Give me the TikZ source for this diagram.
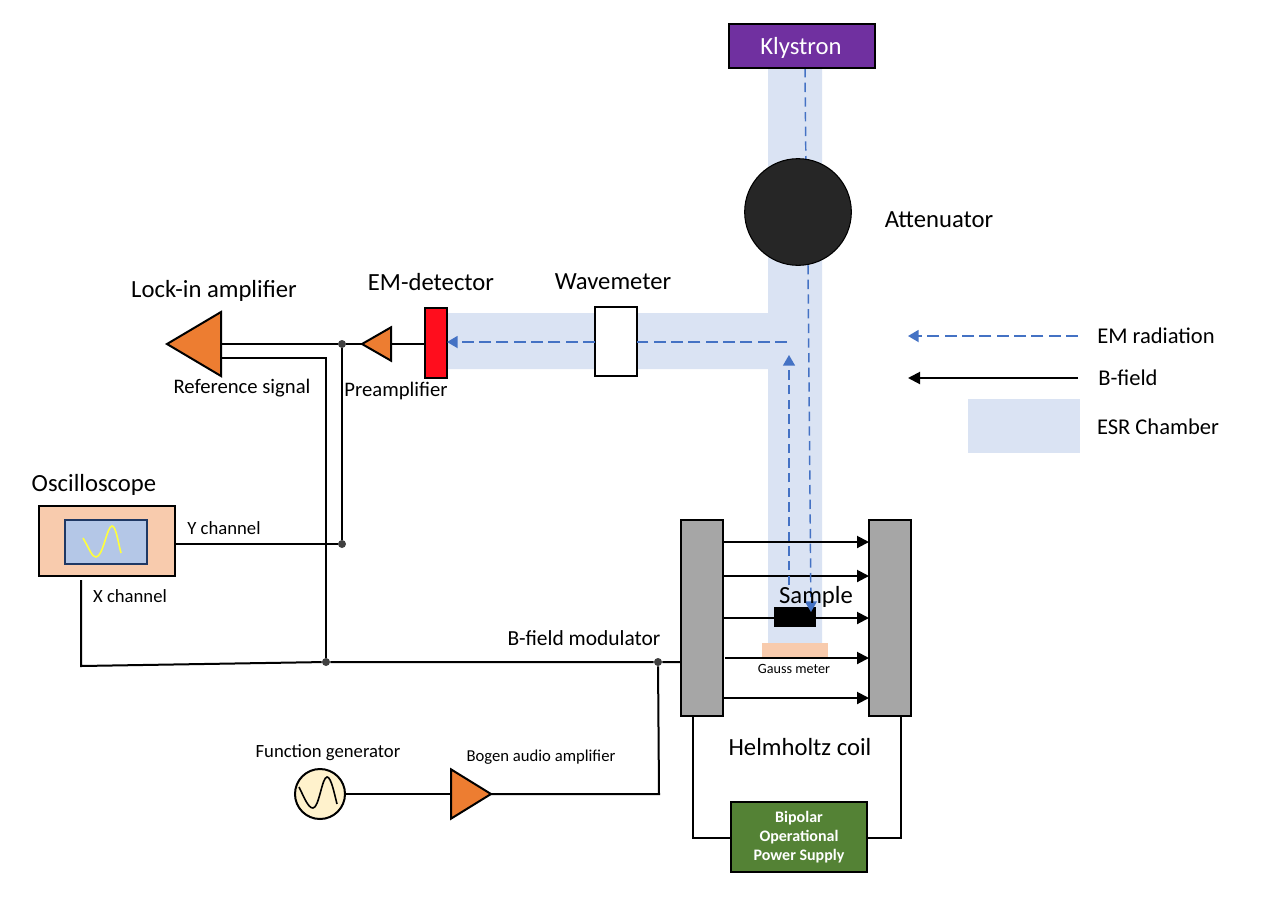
\documentclass[tikz,border=0pt]{standalone}
\usepackage{fontspec}
\setmainfont{Carlito}
\usepackage{xcolor}
\usetikzlibrary{arrows.meta,shapes.geometric,positioning}
\definecolor{chamber}{HTML}{DAE3F3}
\definecolor{beam}{HTML}{4472C4}
\definecolor{peach}{HTML}{F8CBAD}
\definecolor{amp}{HTML}{ED7D31}

\begin{document}
\begin{tikzpicture}[
            x=0.75pt,
            y=-0.75pt,
            big label/.style={
                    font=\fontsize{18.5}{22}\selectfont,
                    inner sep=0pt
                },
            mid label/.style={
                    font=\fontsize{15.5}{18}\selectfont,
                    inner sep=0pt
                },
            key label/.style={
                    font=\fontsize{16.9}{20}\selectfont,
                    inner sep=0pt
                },
            small label/.style={
                    font=\fontsize{14}{16}\selectfont,
                    inner sep=0pt
                },
            box/.style={
                    draw=black,
                    line width=1.5pt,
                    rectangle,
                    inner sep=0pt,
                    outer sep=0pt
                },
            coil/.style={
                    box,
                    fill=black!35,
                    minimum width=31.5pt,
                    minimum height=147pt
                },
            amplifier/.style={
                    draw=black,
                    fill=amp,
                    line width=1.5pt,
                    isosceles triangle,
                    isosceles triangle stretches,
                    inner sep=0pt,
                    outer sep=0pt
                },
            junction/.style={
                    circle,
                    fill=black!75,
                    inner sep=0pt,
                    minimum size=6pt
                },
            wire/.style={
                    draw=black,
                    line width=1.5pt
                },
            field line/.style={
                    wire,
                    -{Triangle[length=9pt,width=9pt]}
                },
            beam thin/.style={
                    draw=beam,
                    line width=1.1pt,
                    dash pattern=on 7pt off 4pt
                },
            beam thick/.style={
                    draw=beam,
                    line width=1.4pt,
                    dash pattern=on 9pt off 4pt
                },
            beam tip/.style={
                    -{Triangle[length=8pt,width=9pt]}
                }
        ]
        \useasboundingbox (0,0) rectangle (1278,908);

        % Chamber
        \fill[chamber] (768,68) -- (822,68) -- (822,643) -- (768,643) -- (768,369) -- (447,369)
            -- (447,313) -- (768,313) -- cycle;
        \node[fill=peach, inner sep=0pt, minimum width=49.5pt, minimum height=10.5pt] (gauss) at (795,650) {};

        % Beam into the attenuator
        \coordinate (beam-top) at (805,68);
        \coordinate (beam-in) at (806,175);
        \draw[beam thin] (beam-top) -- (beam-in);

        % Beam line units
        \node[box, fill=white, minimum width=31.5pt, minimum height=51.75pt] (wavemeter) at (616,341.5) {};
        \node[box, fill={rgb,255:red,255;green,13;blue,29}, minimum width=16.5pt, minimum height=52.5pt] (detector) at (436,343) {};
        \node[box, fill={rgb,255:red,112;green,48;blue,160}, minimum width=109.5pt, minimum height=33pt] (klystron) at (802,46) {};
        \node[circle, draw=black, fill=black!85, line width=0.8pt, inner sep=0pt, minimum size=80pt] (attenuator) at (798,212) {};

        % Amplifiers
        \node[amplifier, shape border rotate=180, minimum width=48pt, minimum height=40.5pt, anchor=apex] (lockin) at (167,344) {};
        \node[amplifier, shape border rotate=180, minimum width=25pt, minimum height=21.75pt, anchor=apex] (preamp) at (362,344) {};
        \node[amplifier, minimum width=37pt, minimum height=30pt, anchor=apex] (bogen) at (491,794) {};

        % Oscilloscope and generator
        \node[box, fill=peach, minimum width=102pt, minimum height=52.5pt] (scope) at (107,541) {};
        \node[box, draw={rgb,255:red,31;green,56;blue,100}, fill={rgb,255:red,180;green,199;blue,231}, minimum width=61.5pt, minimum height=33pt] (screen) at (106,542) {};
        \draw[draw={rgb,255:red,255;green,255;blue,60}, line width=1.2pt] (83,538) .. controls (90,550) and (92,557) .. (96,557)
            .. controls (103,557) and (107,526) .. (112,526) .. controls (116,526) and (118,542) .. (121,553);
        \node[circle, draw=black, fill={rgb,255:red,255;green,242;blue,204}, line width=1.5pt, inner sep=0pt, minimum size=37.5pt] (generator) at (320,794) {};
        \draw[wire, line width=1.2pt] (299,787) .. controls (304,797) and (308,808) .. (313,808)
            .. controls (319,808) and (322,777) .. (327,777) .. controls (331,777) and (334,792) .. (337,804);

        % Coils
        \node[coil] (coil-l) at (702,618) {};
        \node[coil] (coil-r) at (890,618) {};
        \node[box, fill={rgb,255:red,84;green,130;blue,53}, minimum width=102pt, minimum height=52.5pt, text=white,
            align=center, font=\fontsize{12}{14.25}\selectfont\bfseries] (supply) at (799,837) {Bipolar\\Operational\\Power Supply};

        % Field lines
        \foreach \y in {542,576,618,698} {
                \draw[field line] (coil-l.east |- 0,\y) -- (coil-r.west |- 0,\y);
            }
        \coordinate (gauss-start) at (725,658);
        \draw[field line] (gauss-start) -- (coil-r.west |- gauss-start);
        \node[fill=black, inner sep=0pt, minimum width=31.5pt, minimum height=15pt] (sample) at (795,617) {};

        % Dashed beam
        \coordinate (beam-mid) at (808,265);
        \coordinate (beam-end) at (811,612);
        \coordinate (beam-up) at (789,585);
        \coordinate (beam-tip) at (789,355);
        \coordinate (beam-turn) at (787,342);
        \draw[beam thin, beam tip] (beam-mid) -- (beam-end);
        \draw[beam thin, beam tip] (beam-up) -- (beam-tip);
        \draw[beam thick] (beam-turn) -- (wavemeter.east |- beam-turn);
        \draw[beam thick, beam tip] (wavemeter.west |- beam-turn) -- (detector.east |- beam-turn);

        % Junctions
        \node[junction] (dot-y1) at (342,344) {};
        \node[junction] (dot-y2) at (342,544) {};
        \node[junction] (dot-ref) at (326,662) {};
        \node[junction] (dot-mod) at (658,662) {};

        % Wires
        \coordinate (lockin-a) at (221,344);
        \coordinate (lockin-b) at (221,358);
        \coordinate (preamp-out) at (391,344);
        \coordinate (x-top) at (81,580);
        \coordinate (x-low) at (81,666);
        \coordinate (mod-low) at (659,794);
        \draw[wire] (detector.west |- preamp-out) -- (preamp-out);
        \draw[wire] (preamp.apex) -- (dot-y1) -- (lockin-a);
        \draw[wire] (lockin-b) -- (dot-ref |- lockin-b) -- (dot-ref);
        \draw[wire] (dot-y1) -- (dot-y2);
        \draw[wire] (scope.east |- dot-y2) -- (dot-y2);
        \draw[wire] (x-top) -- (x-low) -- (dot-ref) -- (dot-mod) -- (coil-l.west |- dot-mod);
        \draw[wire] (dot-mod) -- (mod-low) -- (bogen.apex);
        \draw[wire] (generator) -- (bogen.west |- generator);
        \draw[wire] (coil-l.south -| 693,0) -- (693,838) -- (supply.west |- 0,838);
        \draw[wire] (coil-r.south -| 901,0) -- (901,838) -- (supply.east |- 0,838);

        % Labels
        \node[big label, text=white] (lbl-klystron) at (801,48) {Klystron};
        \node[big label] (lbl-lockin) at (214,291) {Lock-in amplifier};
        \node[big label] (lbl-detector) at (431,282) {EM-detector};
        \node[big label] (lbl-wavemeter) at (613,282) {Wavemeter};
        \node[big label] (lbl-attenuator) at (939,220) {Attenuator};
        \node[big label] (lbl-scope) at (94,485) {Oscilloscope};
        \node[big label] (lbl-sample) at (816,597) {Sample};
        \node[big label] (lbl-helmholtz) at (800,747) {Helmholtz coil};
        \node[mid label] (lbl-ref) at (242,388) {Reference signal};
        \node[mid label] (lbl-preamp) at (396,391) {Preamplifier};
        \node[mid label, font=\fontsize{16.1}{19}\selectfont] (lbl-mod) at (584,638) {B-field modulator};
        \node[small label] (lbl-y) at (224,528) {Y channel};
        \node[small label] (lbl-x) at (130,596) {X channel};
        \node[small label] (lbl-func) at (328,753) {Function generator};
        \node[small label, font=\fontsize{12.5}{15}\selectfont] (lbl-bogen) at (541,757) {Bogen audio amplifier};
        \node[font=\fontsize{10.6}{12}\selectfont, inner sep=0pt] (lbl-gauss) at (794,669) {Gauss meter};

        % Legend
        \coordinate (key-a) at (1078,336);
        \coordinate (key-b) at (908,336);
        \coordinate (key-c) at (1078,378);
        \coordinate (key-d) at (908,378);
        \draw[beam thick, beam tip] (key-a) -- (key-b);
        \draw[field line] (key-c) -- (key-d);
        \node[fill=chamber, inner sep=0pt, minimum width=84pt, minimum height=40.5pt] (key-chamber) at (1024,426) {};
        \node[key label] (lbl-em) at (1156,336) {EM radiation};
        \node[key label] (lbl-b) at (1128,378) {B-field};
        \node[key label] (lbl-esr) at (1158,427) {ESR Chamber};

    \end{tikzpicture}
\end{document}
